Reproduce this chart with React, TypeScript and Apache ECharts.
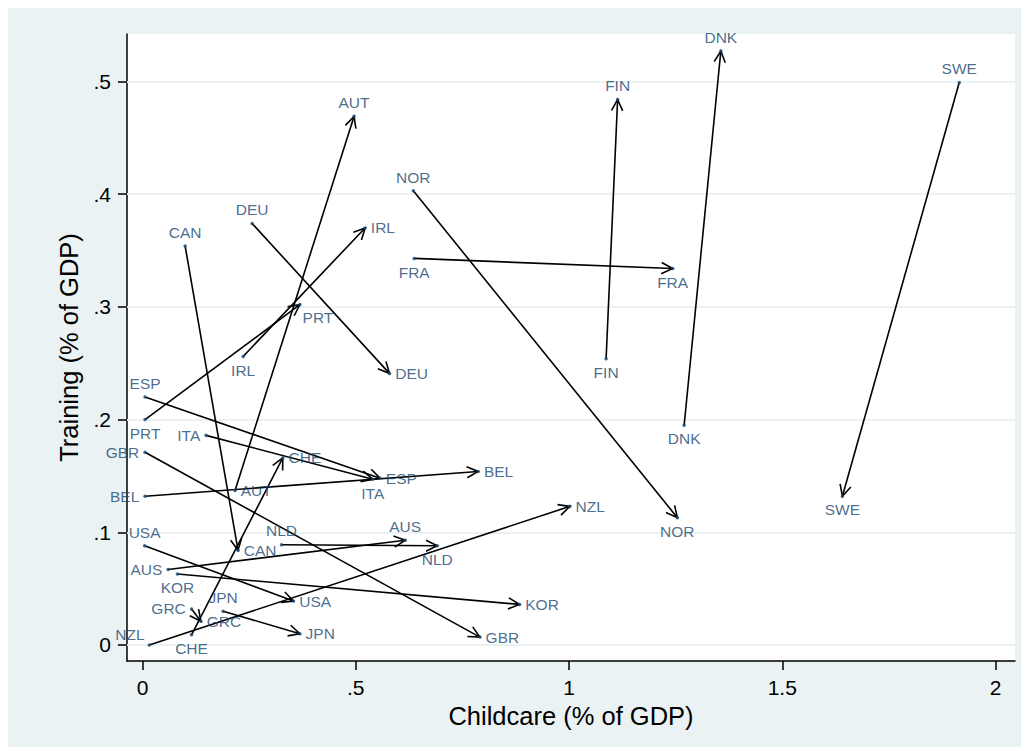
import React, { useEffect, useRef } from "react";
import * as echarts from "echarts";

const countries = ["AUT","CAN","DEU","IRL","PRT","ESP","ITA","BEL","CHE","GBR","USA","AUS","NLD","KOR","GRC","JPN","NZL","NOR","FRA","FIN","DNK","SWE"];
const childcareStart = [0.217,0.100,0.257,0.236,0.006,0.006,0.149,0.006,0.115,0.006,0.005,0.060,0.326,0.082,0.115,0.189,0.016,0.635,0.637,1.087,1.270,1.915];
const trainingStart  = [0.137,0.354,0.374,0.256,0.200,0.220,0.186,0.132,0.009,0.171,0.088,0.067,0.089,0.063,0.032,0.030,0.000,0.403,0.343,0.254,0.195,0.499];
const childcareEnd   = [0.496,0.224,0.579,0.522,0.369,0.557,0.540,0.787,0.329,0.791,0.354,0.616,0.691,0.884,0.137,0.369,1.002,1.254,1.243,1.114,1.356,1.641];
const trainingEnd    = [0.469,0.084,0.241,0.370,0.302,0.148,0.147,0.154,0.166,0.007,0.039,0.093,0.088,0.036,0.021,0.010,0.123,0.113,0.334,0.484,0.527,0.132];

const xTicks = [0, 0.5, 1, 1.5, 2];
const yTicks = [0, 0.1, 0.2, 0.3, 0.4, 0.5];

// label placement (style)
const startLabelPos = ["right","top","top","bottom","bottom","top","left","left","bottom","left","top","left","top","bottom","left","top","nzl","top","bottom","bottom","bottom","top"];
const endLabelPos   = ["top","right","right","right","prt","right","bottom","right","right","right","right","top","bottom","right","right","right","right","bottom","bottom","top","top","bottom"];

const NAVY = "#1a476f";
const BG = "#eaf2f3";
const FONT = "'Liberation Sans', Arial, sans-serif";

function fmt(v: number): string {
  if (v === 0) return "0";
  const s = String(+v.toFixed(2));
  return s.startsWith("0.") ? s.slice(1) : s;
}

function labelFor(pos: string) {
  if (pos === "nzl") return { position: "left", offset: [1, -10] };
  if (pos === "prt") return { position: "right", offset: [-3, 13] };
  return { position: pos };
}

export default function App() {
  const ref = useRef<HTMLDivElement>(null);
  useEffect(() => {
    if (!ref.current) return;
    const chart = echarts.init(ref.current, null, { renderer: "svg" });

    const arrows = countries.map((c, i) => [childcareStart[i], trainingStart[i], childcareEnd[i], trainingEnd[i]]);
    const startPts = countries.map((c, i) => ({ name: c, value: [childcareStart[i], trainingStart[i]], label: labelFor(startLabelPos[i]) }));
    const endPts = countries.map((c, i) => ({ name: c, value: [childcareEnd[i], trainingEnd[i]], label: labelFor(endLabelPos[i]) }));

    const ptLabel = {
      show: true,
      formatter: "{b}",
      color: NAVY,
      fontSize: 15.5,
      fontFamily: FONT,
      distance: 4,
    };

    chart.setOption({
      animation: false,
      backgroundColor: BG,
      grid: { left: 119, top: 26, right: 6, bottom: 86, show: true, backgroundColor: "#ffffff", borderWidth: 0 },
      xAxis: {
        type: "value",
        min: -0.0363,
        max: 2.0457,
        name: "Childcare (% of GDP)",
        nameLocation: "middle",
        nameGap: 35,
        nameTextStyle: { fontSize: 25.5, fontFamily: FONT, color: "#000" },
        axisLine: { show: true, onZero: false, lineStyle: { color: "#000", width: 1.5 } },
        axisTick: { show: true, length: 9, customValues: xTicks, lineStyle: { color: "#000", width: 1.5 } },
        axisLabel: { customValues: xTicks, formatter: fmt, fontSize: 21, fontFamily: FONT, color: "#000", margin: 16 },
        splitLine: { show: false },
      },
      yAxis: {
        type: "value",
        min: -0.0142,
        max: 0.5421,
        name: "Training (% of GDP)",
        nameLocation: "middle",
        nameGap: 45,
        nameTextStyle: { fontSize: 25.5, fontFamily: FONT, color: "#000" },
        axisLine: { show: true, onZero: false, lineStyle: { color: "#000", width: 1.5 } },
        axisTick: { show: true, length: 9, customValues: yTicks, lineStyle: { color: "#000", width: 1.5 } },
        axisLabel: { customValues: yTicks, formatter: fmt, fontSize: 21, fontFamily: FONT, color: "#000", margin: 16 },
        splitLine: { show: false },
      },
      series: [
        {
          type: "scatter",
          silent: true,
          data: [[0, 0]],
          symbolSize: 0,
          z: 1,
          markLine: {
            silent: true,
            z: 1,
            symbol: "none",
            label: { show: false },
            lineStyle: { color: BG, width: 2, type: "solid" },
            data: yTicks.map((v) => ({ yAxis: v })),
          },
        },
        {
          type: "custom",
          data: arrows,
          encode: { x: [0, 2], y: [1, 3] },
          z: 2,
          renderItem: (params: any, api: any) => {
            const p0 = api.coord([api.value(0), api.value(1)]);
            const p1 = api.coord([api.value(2), api.value(3)]);
            const ang = Math.atan2(p1[1] - p0[1], p1[0] - p0[0]);
            const L = 12.5, spread = 0.46;
            const a1 = [p1[0] - L * Math.cos(ang - spread), p1[1] - L * Math.sin(ang - spread)];
            const a2 = [p1[0] - L * Math.cos(ang + spread), p1[1] - L * Math.sin(ang + spread)];
            const style = { stroke: "#000", lineWidth: 1.6, fill: null };
            return {
              type: "group",
              children: [
                { type: "line", shape: { x1: p0[0], y1: p0[1], x2: p1[0], y2: p1[1] }, style },
                { type: "polyline", shape: { points: [a1, p1, a2] }, style },
              ],
            };
          },
        },
        {
          type: "scatter",
          data: startPts,
          symbolSize: 3.5,
          itemStyle: { color: NAVY },
          label: ptLabel,
          z: 3,
        },
        {
          type: "scatter",
          data: endPts,
          symbolSize: 3.5,
          itemStyle: { color: NAVY },
          label: ptLabel,
          z: 3,
        },
      ],
    });
    return () => chart.dispose();
  }, []);
  return <div ref={ref} style={{ width: 1013, height: 739 }} />;
}
